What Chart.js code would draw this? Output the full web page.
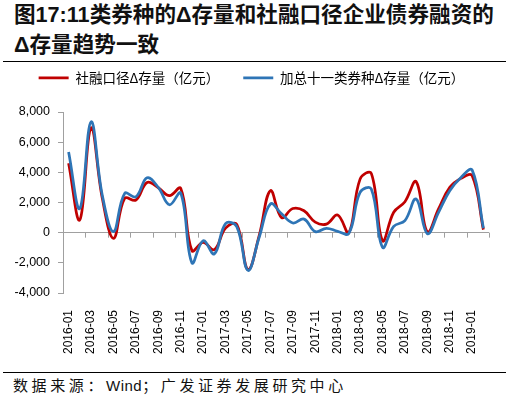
<!DOCTYPE html>
<html>
<head>
<meta charset="utf-8">
<script src="https://cdn.jsdelivr.net/npm/chart.js@4.4.0/dist/chart.umd.min.js"></script>
<style>
  body { margin: 0; background: #fff; }
  #wrap { position: relative; width: 509px; height: 399px; overflow: hidden; }
  .title { position: absolute; left: 14px; font: bold 21.6px "Liberation Sans", "Noto Sans CJK SC", sans-serif; color: #111; white-space: nowrap; line-height: 1; }
  .rule { position: absolute; left: 3px; width: 503px; height: 0; border-top: 1px solid #000; }
  .source { position: absolute; left: 13px; top: 374px; font: 15px "Noto Sans CJK SC", sans-serif; letter-spacing: 3.6px; color: #111; white-space: nowrap; }
  .source span { font-family: "Liberation Sans", sans-serif; letter-spacing: 0.5px; }
  canvas { position: absolute; left: 0; top: 0; }
</style>
</head>
<body>
<div id="wrap">
  <div class="title" style="top:4px">图17:11类券种的Δ存量和社融口径企业债券融资的</div>
  <div class="title" style="top:34px">Δ存量趋势一致</div>
  <div class="rule" style="top:61px"></div>
  <div class="rule" style="top:372px"></div>
  <div class="source">数据来源：<span>Wind</span>；广发证券发展研究中心</div>
  <canvas id="myChart" width="509" height="399"></canvas>
</div>
<script>
var months = ['2016-01', '2016-02', '2016-03', '2016-04', '2016-05', '2016-06', '2016-07', '2016-08',
  '2016-09', '2016-10', '2016-11', '2016-12', '2017-01', '2017-02', '2017-03', '2017-04',
  '2017-05', '2017-06', '2017-07', '2017-08', '2017-09', '2017-10', '2017-11', '2017-12',
  '2018-01', '2018-02', '2018-03', '2018-04', '2018-05', '2018-06', '2018-07', '2018-08',
  '2018-09', '2018-10', '2018-11', '2018-12', '2019-01', '2019-02'];

// 社融口径Δ存量（亿元）
var tsfStock = [4600, 850, 6950, 2300, -380, 2270, 2160, 3330, 2980, 2450, 2940, -1190,
  -650, -1130, 300, 550, -2450, -200, 2780, 1000, 1600, 1450, 700, 570,
  1170, 0, 3550, 3930, -530, 1350, 2050, 3380, 50, 1570, 3000, 3600, 3770, 200];

// 加总十一类券种Δ存量（亿元）
var bondStock = [5350, 1600, 7350, 2500, 70, 2600, 2380, 3640, 3000, 1850, 2630, -2000,
  -530, -1410, 600, 400, -2500, -300, 1900, 1250, 640, 900, 70, 290,
  90, -50, 2670, 2900, -970, 420, 800, 2230, -70, 1350, 2780, 3660, 4150, 300];

var yMin = -4000, yMax = 8000, yStep = 2000;

var axisGray = '#a0a0a0';

// x axis sits on zero: draw the line's tick marks every two months
var zeroTicks = {
  id: 'zeroTicks',
  beforeDatasetsDraw: function(chart) {
    var xs = chart.scales.x, ys = chart.scales.y, ctx = chart.ctx;
    var half = (xs.getPixelForValue(1) - xs.getPixelForValue(0)) / 2;
    var y0 = ys.getPixelForValue(0);
    ctx.save();
    ctx.strokeStyle = axisGray;
    ctx.lineWidth = 1;
    ctx.beginPath();
    for (var i = 0; i <= months.length; i += 2) {
      var x = i < months.length ? xs.getPixelForValue(i) - half : xs.getPixelForValue(i - 1) + half;
      x = Math.round(x) + 0.5;
      ctx.moveTo(x, y0);
      ctx.lineTo(x, y0 + 5);
    }
    ctx.stroke();
    ctx.restore();
  }
};

// keep the legend block a fixed height so the plot starts where the original does
var legendHeight = {
  id: 'legendHeight',
  beforeInit: function(chart) {
    var fit = chart.legend.fit;
    chart.legend.fit = function() {
      fit.call(chart.legend);
      this.height = 65;
    };
  }
};

function loadChart() {
  var ctx = document.getElementById('myChart').getContext('2d');
  new Chart(ctx, {
    type: 'line',
    data: {
      labels: months,
      datasets: [{
        label: '加总十一类券种Δ存量（亿元）',
        data: bondStock,
        borderColor: '#2e75b6',
        backgroundColor: '#2e75b6',
        borderWidth: 2.75,
        pointRadius: 0,
        tension: 0.4,
        fill: false
      }, {
        label: '社融口径Δ存量（亿元）',
        data: tsfStock,
        borderColor: '#c00000',
        backgroundColor: '#c00000',
        borderWidth: 2.75,
        pointRadius: 0,
        tension: 0.4,
        fill: false
      }]
    },
    options: {
      responsive: false,
      animation: false,
      layout: { padding: { top: 47, left: 14, right: 20, bottom: 0 } },
      scales: {
        x: {
          offset: true,
          grid: { display: false },
          border: { display: false },
          ticks: {
            autoSkip: false,
            maxRotation: 90,
            minRotation: 90,
            padding: 9,
            color: '#000',
            font: { family: 'Liberation Sans', size: 12 },
            callback: function(val, idx) { return idx % 2 === 0 ? months[idx] : ''; }
          },
          afterFit: function(scale) { scale.height = 106; }
        },
        y: {
          min: yMin,
          max: yMax,
          grid: {
            color: function(c) { return c.tick.value === 0 ? axisGray : 'rgba(0,0,0,0)'; },
            tickColor: axisGray,
            tickLength: 5
          },
          border: { display: true, color: axisGray },
          ticks: {
            stepSize: yStep,
            padding: 8,
            color: '#000',
            font: { family: 'Liberation Sans', size: 12.5 },
            callback: function(v) { return v.toLocaleString('en-US'); }
          },
          afterFit: function(scale) { scale.width = 49; }
        }
      },
      plugins: {
        legend: {
          reverse: true,
          labels: {
            boxWidth: 30,
            boxHeight: 0,
            padding: 24,
            color: '#000',
            font: { family: 'Noto Sans CJK SC', size: 13.5 }
          }
        },
        tooltip: { enabled: false }
      }
    },
    plugins: [zeroTicks, legendHeight]
  });
}
loadChart();
</script>
</body>
</html>
